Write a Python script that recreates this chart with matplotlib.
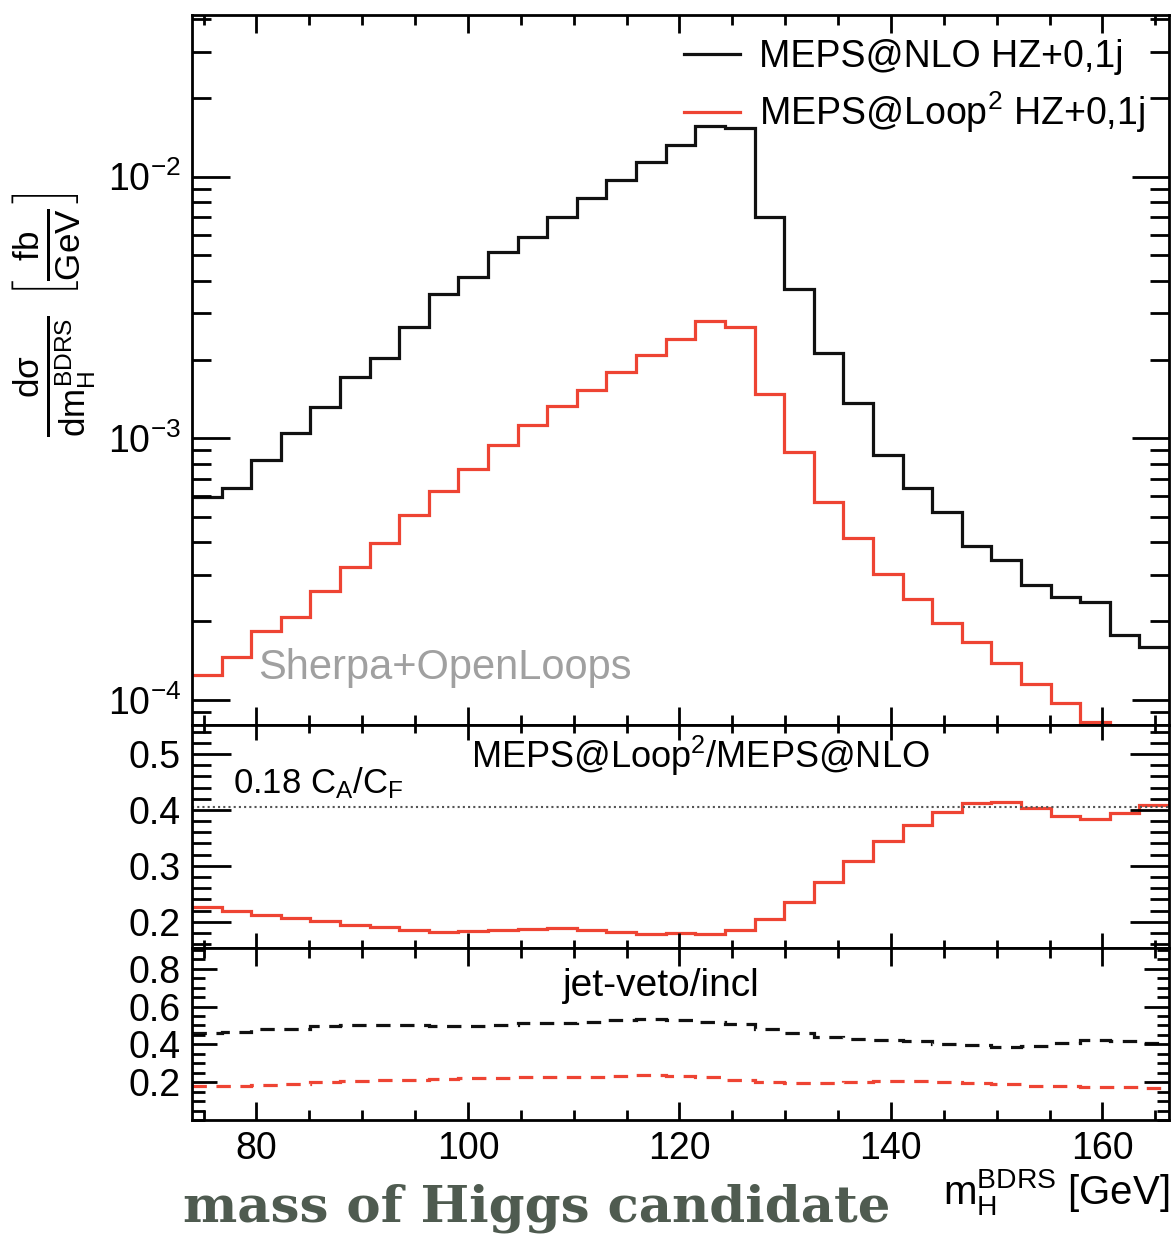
import numpy as np
import matplotlib
matplotlib.use("Agg")
import matplotlib.pyplot as plt
from matplotlib.ticker import MultipleLocator, LogLocator, NullFormatter, FixedLocator

plt.rcParams['font.family'] = ['Liberation Sans', 'DejaVu Sans']
plt.rcParams['mathtext.fontset'] = 'custom'
plt.rcParams['mathtext.rm'] = 'Liberation Sans'
plt.rcParams['mathtext.it'] = 'Liberation Sans'
plt.rcParams['mathtext.sf'] = 'Liberation Sans'

# binning of m_H^BDRS [GeV]
bin_lo, bin_hi, n_bins = 73.9, 166.3, 33
edges = np.linspace(bin_lo, bin_hi, n_bins + 1)

# dsigma/dm [fb/GeV]
meps_nlo = [5.98e-4, 6.44e-4, 8.26e-4, 1.05e-3, 1.32e-3, 1.72e-3, 2.02e-3, 2.66e-3,
            3.56e-3, 4.15e-3, 5.14e-3, 5.90e-3, 7.04e-3, 8.26e-3, 9.71e-3, 1.135e-2,
            1.32e-2, 1.56e-2, 1.53e-2, 7.04e-3, 3.72e-3, 2.12e-3, 1.36e-3, 8.63e-4,
            6.44e-4, 5.24e-4, 3.87e-4, 3.43e-4, 2.75e-4, 2.47e-4, 2.37e-4, 1.77e-4, 1.59e-4]
meps_loop2 = [1.245e-4, 1.46e-4, 1.84e-4, 2.07e-4, 2.61e-4, 3.23e-4, 3.97e-4, 5.09e-4,
              6.31e-4, 7.61e-4, 9.42e-4, 1.12e-3, 1.33e-3, 1.53e-3, 1.80e-3, 2.08e-3,
              2.39e-3, 2.82e-3, 2.67e-3, 1.476e-3, 8.89e-4, 5.73e-4, 4.15e-4, 3.03e-4,
              2.44e-4, 1.97e-4, 1.67e-4, 1.39e-4, 1.15e-4, 9.7e-5, 8.2e-5, 7.0e-5, 6.5e-5]

# MEPS@Loop2 / MEPS@NLO
ratio = [0.227, 0.219, 0.212, 0.206, 0.201, 0.195, 0.1905, 0.186, 0.182, 0.183, 0.1845,
         0.187, 0.188, 0.1857, 0.182, 0.178, 0.179, 0.178, 0.185, 0.205, 0.236, 0.2716,
         0.309, 0.344, 0.373, 0.397, 0.412, 0.415, 0.404, 0.390, 0.384, 0.395, 0.409]
ca_cf_line = 0.18 * 3.0 / (4.0 / 3.0)

# jet-veto / inclusive
veto_nlo = [0.461, 0.466, 0.479, 0.484, 0.497, 0.502, 0.502, 0.500, 0.497, 0.497, 0.502,
            0.511, 0.515, 0.520, 0.529, 0.533, 0.529, 0.520, 0.508, 0.484, 0.461, 0.440,
            0.431, 0.425, 0.417, 0.404, 0.395, 0.387, 0.390, 0.408, 0.422, 0.417, 0.408]
veto_loop2 = [0.182, 0.182, 0.186, 0.191, 0.200, 0.204, 0.209, 0.213, 0.218, 0.222, 0.223,
              0.227, 0.227, 0.227, 0.231, 0.236, 0.231, 0.227, 0.209, 0.200, 0.195, 0.195,
              0.200, 0.206, 0.206, 0.200, 0.195, 0.191, 0.182, 0.179, 0.177, 0.173, 0.170]

black = '#111111'
red = '#ee4433'
fs = 27

fig = plt.figure(figsize=(11.76, 12.37), dpi=100)
W, H = 1176.0, 1237.0
x0, x1 = 192 / W, 1169 / W


def box(top, bottom):
    return [x0, 1 - bottom / H, x1 - x0, (bottom - top) / H]


ax1 = fig.add_axes(box(15, 725))
ax2 = fig.add_axes(box(725, 948))
ax3 = fig.add_axes(box(948, 1120))


def style(ax, xmaj, xmin, yticks):
    ax.set_xlim(bin_lo, bin_hi)
    ax.xaxis.set_major_locator(MultipleLocator(20))
    ax.xaxis.set_minor_locator(MultipleLocator(5))
    ax.tick_params(which='both', direction='in', top=True, right=True,
                   labelsize=fs, width=2, pad=8)
    ax.tick_params(axis='x', which='major', length=xmaj)
    ax.tick_params(axis='x', which='minor', length=xmin)
    ax.tick_params(axis='y', which='major', length=yticks[0])
    ax.tick_params(axis='y', which='minor', length=yticks[1])
    for s in ax.spines.values():
        s.set_linewidth(2)


# top panel
ax1.stairs(meps_nlo, edges, baseline=None, color=black, lw=2.3, label='MEPS@NLO HZ+0,1j')
ax1.stairs(meps_loop2, edges, baseline=None, color=red, lw=2.3,
           label='MEPS@Loop$^{2}$ HZ+0,1j')
ax1.set_yscale('log')
ax1.set_ylim(8.02e-5, 4.15e-2)
style(ax1, 13, 7, (27, 14))
ax1.yaxis.set_major_locator(LogLocator(base=10))
ax1.yaxis.set_minor_locator(LogLocator(base=10, subs=np.arange(2, 10)))
ax1.yaxis.set_minor_formatter(NullFormatter())
ax1.tick_params(axis='x', labelbottom=False)
ax1.legend(loc='upper right', bbox_to_anchor=(1.0, 1.0), frameon=False, fontsize=fs,
           handlelength=1.5, handletextpad=0.5, labelspacing=0.38, borderaxespad=0.25)
ax1.text(0.068, 0.08, 'Sherpa+OpenLoops', transform=ax1.transAxes, color='#a0a0a0',
         fontsize=30, va='center', ha='left')
fig.text(55 / W, 1 - 315 / H,
         r'$\frac{d\sigma}{dm_{H}^{BDRS}}\ \left[\frac{fb}{GeV}\right]$',
         rotation=90, fontsize=36, va='center', ha='center')

# ratio panel
ax2.stairs(ratio, edges, baseline=None, color=red, lw=2.3)
ax2.axhline(ca_cf_line, color='#555555', lw=1.5, ls=(0, (1, 1.5)))
ax2.set_ylim(0.153, 0.552)
style(ax2, 11, 6, (28, 14))
ax2.yaxis.set_major_locator(FixedLocator([0.2, 0.3, 0.4, 0.5]))
ax2.yaxis.set_minor_locator(MultipleLocator(0.02))
ax2.tick_params(axis='x', labelbottom=False)
ax2.text(0.042, 0.74, r'0.18 C$_{A}$/C$_{F}$', transform=ax2.transAxes, fontsize=25,
         va='center', ha='left')
ax2.text(0.52, 0.86, r'MEPS@Loop$^{2}$/MEPS@NLO', transform=ax2.transAxes, fontsize=26,
         va='center', ha='center')

# jet veto panel
ax3.stairs(veto_nlo, edges, baseline=None, color=black, lw=2.3, ls=(0, (4.5, 3)))
ax3.stairs(veto_loop2, edges, baseline=None, color=red, lw=2.3, ls=(0, (4.5, 3)))
ax3.set_ylim(0.0, 0.91)
style(ax3, 13, 7, (18, 9))
ax3.yaxis.set_major_locator(FixedLocator([0.2, 0.4, 0.6, 0.8]))
ax3.yaxis.set_minor_locator(MultipleLocator(0.05))
ax3.text(0.48, 0.78, 'jet-veto/incl', transform=ax3.transAxes, fontsize=28,
         va='center', ha='center')
ax3.set_xlabel(r'm$_{H}^{BDRS}$ [GeV]', fontsize=29, loc='right', labelpad=0)

fig.text(183 / W, 1 - 1208 / H, 'mass of Higgs candidate', fontsize=37,
         family='DejaVu Serif', weight='bold', color='#4f5b50', va='center', ha='left')

fig.savefig('out.png', dpi=100)
